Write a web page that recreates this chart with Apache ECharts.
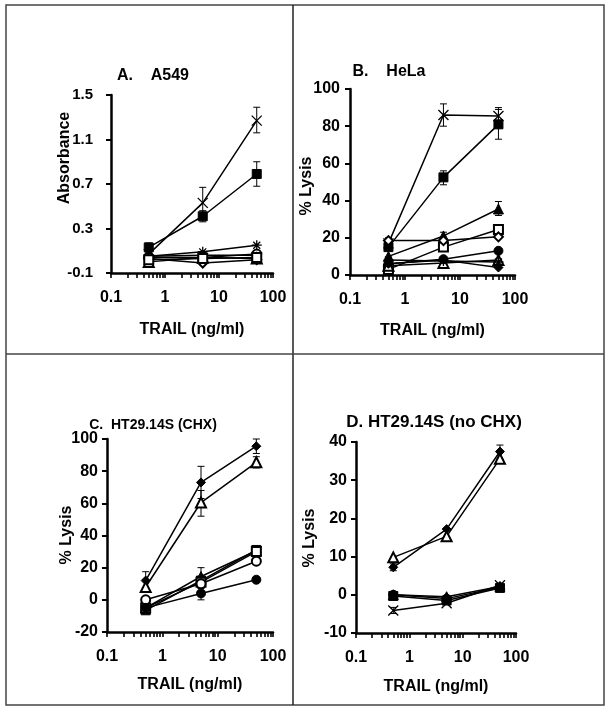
<!DOCTYPE html>
<html><head><meta charset="utf-8">
<script src="https://cdn.jsdelivr.net/npm/echarts@6/dist/echarts.min.js"></script>
<style>html,body{margin:0;padding:0;background:#fff}#c{width:609px;height:711px}</style>
</head><body><div id="c"></div>
<script>
// ---------- data ----------
const doses = [0.5, 5, 50];                    // TRAIL ng/ml
const xTickLabels = ['0.1', '1', '10', '100'];
const xTickVals = [0.1,0.2,0.3,0.4,0.5,0.6,0.7,0.8,0.9,1,2,3,4,5,6,7,8,9,10,20,30,40,50,60,70,80,90,100];

const panelTitles = ['A.    A549', 'B.    HeLa', 'C.  HT29.14S (CHX)', 'D. HT29.14S (no CHX)'];
const yNames = ['Absorbance', '% Lysis', '% Lysis', '% Lysis'];
const xName = 'TRAIL (ng/ml)';
const yTicksA = [-0.1, 0.3, 0.7, 1.1, 1.5];
const yTicksB = [0, 20, 40, 60, 80, 100];
const yTicksC = [-20, 0, 20, 40, 60, 80, 100];
const yTicksD = [-10, 0, 10, 20, 30, 40];

// Panel A (absorbance)
const aCross    = [0.07, 0.53, 1.27];
const aSqFill   = [0.13, 0.41, 0.79];
const aStar     = [0.05, 0.09, 0.15];
const aCircFill = [0.05, 0.06, 0.06];
const aCircOpen = [0.04, 0.04, 0.07];
const aTriOpen  = [0.00, 0.04, 0.03];
const aDiamOpen = [0.03, -0.01, 0.02];
const aSqOpen   = [0.02, 0.03, 0.04];
const aErr = [[5, 0.40, 0.67], [50, 1.16, 1.39], [0.5, 0.09, 0.17], [5, 0.36, 0.46], [50, 0.68, 0.90]];

// Panel B (HeLa % lysis)
const bCross    = [17, 86, 85.5];
const bSqFill   = [15, 52.5, 81];
const bTriFill  = [10, 21, 35.5];
const bSqOpen   = [3, 15, 24.5];
const bDiamOpen = [18.5, 18.5, 20.5];
const bCircFill = [6, 8.5, 13];
const bTriOpen  = [5, 6.5, 8];
const bDiamFill = [6, 8, 4];
const bStar     = [8, 7.5, 7];
const bErr = [[5, 80, 92], [50, 81, 90], [5, 48.5, 56], [50, 73, 89], [5, 18, 23], [50, 32, 39.5], [0.5, 16.5, 20]];

// Panel C (HT29.14S with CHX)
const cDiamFill = [12, 73, 95.5];
const cTriOpen  = [8, 60.5, 85.5];
const cSqFill   = [-6.5, 12, 31];
const cTriFill  = [-5, 14.5, 30.5];
const cSqOpen   = [-5, 11, 30];
const cCircOpen = [0, 10, 24];
const cCircFill = [-5, 4, 12.5];
const cErr = [[0.5, 7, 17.5], [5, 63, 83], [50, 91, 100], [5, 52, 68], [50, 82, 89], [5, 9, 20], [50, 29, 33], [5, 0, 7]];

// Panel D (HT29.14S without CHX)
const dDiamFill = [7.2, 17.2, 37.5];
const dTriOpen  = [9.8, 15.3, 35.6];
const dCircFill = [0, -1, 2];
const dSqFill   = [-0.3, -1.5, 1.8];
const dCross    = [-4.1, -2.2, 2.5];
const dTriFill  = [0, -0.5, 2.2];
const dErr = [[50, 35.5, 39.2], [0.5, -4.9, -3.3], [0.5, 6.3, 8.1]];

// ---------- styles ----------
const FONT = 'Liberation Sans';
const SYM = {
  cross: 'path://M0,0L10,10M10,0L0,10',
  star: 'path://M5,0L5,10M0,5L10,5M1.5,1.5L8.5,8.5M8.5,1.5L1.5,8.5',
  sqFill: 'rect', sqOpen: 'emptyRect', circFill: 'circle', circOpen: 'emptyCircle',
  triFill: 'triangle', triOpen: 'emptyTriangle', diamFill: 'diamond', diamOpen: 'emptyDiamond'
};

const grids = [
  {left: 111, top: 95, width: 162, height: 178},
  {left: 350, top: 89, width: 165, height: 186},
  {left: 107, top: 439, width: 166, height: 193},
  {left: 356, top: 442, width: 160, height: 191}
];
const yCfg = [
  {min: -0.1, max: 1.5, ticks: yTicksA, margin: 18, size: 15},
  {min: 0, max: 100, ticks: yTicksB, margin: 10, size: 16},
  {min: -20, max: 100, ticks: yTicksC, margin: 9, size: 16},
  {min: -10, max: 40, ticks: yTicksD, margin: 9, size: 16}
];
const titleCfg = [[148, 63, 16], [384, 59, 16], [148, 413, 14], [429, 409, 17]];
const yNamePos = [[65, 158], [307, 186], [67, 535], [310, 538]];
const xNameGap = [49, 48, 45, 46];

const panels = [
  [['cross', aCross], ['sqFill', aSqFill], ['star', aStar], ['circFill', aCircFill], ['circOpen', aCircOpen], ['triOpen', aTriOpen], ['diamOpen', aDiamOpen], ['sqOpen', aSqOpen]],
  [['cross', bCross], ['sqFill', bSqFill], ['triFill', bTriFill], ['sqOpen', bSqOpen], ['diamOpen', bDiamOpen], ['circFill', bCircFill], ['triOpen', bTriOpen], ['diamFill', bDiamFill], ['star', bStar]],
  [['diamFill', cDiamFill], ['triOpen', cTriOpen], ['sqFill', cSqFill], ['triFill', cTriFill], ['sqOpen', cSqOpen], ['circOpen', cCircOpen], ['circFill', cCircFill]],
  [['diamFill', dDiamFill], ['triOpen', dTriOpen], ['circFill', dCircFill], ['sqFill', dSqFill], ['cross', dCross], ['triFill', dTriFill]]
];
const errs = [aErr, bErr, cErr, dErr];

const txt = {fontFamily: FONT, fontWeight: 'bold', fontSize: 16, color: '#000'};
const xAxes = [], yAxes = [], series = [], titles = [], graphics = [];
grids.forEach((g, i) => {
  xAxes.push({
    type: 'log', logBase: 10, gridIndex: i, min: 0.1, max: 100, position: 'bottom',
    name: xName, nameLocation: 'middle', nameGap: xNameGap[i], nameMoveOverlap: false,
    nameTextStyle: Object.assign({}, txt),
    axisLine: {onZero: false, lineStyle: {color: '#000', width: 2.5}},
    axisTick: {show: true, customValues: xTickVals, length: 5, lineStyle: {color: '#000', width: 1.6}},
    axisLabel: Object.assign({margin: 17, formatter: v => xTickLabels[Math.round(Math.log10(v)) + 1]}, txt),
    splitLine: {show: false}
  });
  const yc = yCfg[i];
  yAxes.push({
    type: 'value', gridIndex: i, min: yc.min, max: yc.max,
    axisLine: {show: true, onZero: false, lineStyle: {color: '#000', width: 2.5}},
    axisTick: {show: true, customValues: yc.ticks, length: 5, lineStyle: {color: '#000', width: 2}},
    axisLabel: Object.assign({customValues: yc.ticks, margin: yc.margin}, txt, {fontSize: yc.size}),
    splitLine: {show: false}
  });
  titles.push({
    text: panelTitles[i], left: titleCfg[i][0], top: titleCfg[i][1], textAlign: 'center',
    textStyle: {fontFamily: FONT, fontWeight: 'bold', fontSize: titleCfg[i][2], color: '#000'}
  });
  graphics.push({
    type: 'text', x: yNamePos[i][0], y: yNamePos[i][1], rotation: Math.PI / 2, silent: true,
    style: {text: yNames[i], fill: '#000', font: 'bold 16px "' + FONT + '"', align: 'center', verticalAlign: 'middle'}
  });
  // error bars
  series.push({
    type: 'custom', xAxisIndex: i, yAxisIndex: i, z: 1,
    data: errs[i], encode: {x: 0, y: [1, 2]},
    renderItem: (params, api) => {
      const x = api.value(0);
      const p1 = api.coord([x, api.value(1)]);
      const p2 = api.coord([x, api.value(2)]);
      const w = 3.5, st = {stroke: '#000', lineWidth: 1};
      return {type: 'group', children: [
        {type: 'line', shape: {x1: p1[0], y1: p1[1], x2: p2[0], y2: p2[1]}, style: st},
        {type: 'line', shape: {x1: p1[0] - w, y1: p1[1], x2: p1[0] + w, y2: p1[1]}, style: st},
        {type: 'line', shape: {x1: p2[0] - w, y1: p2[1], x2: p2[0] + w, y2: p2[1]}, style: st}
      ]};
    }
  });
  panels[i].forEach(([sym, vals]) => {
    const isPath = sym === 'cross' || sym === 'star';
    series.push({
      type: 'line', xAxisIndex: i, yAxisIndex: i, z: 3,
      data: doses.map((d, k) => [d, vals[k]]),
      symbol: SYM[sym], symbolSize: isPath ? 10 : (sym.startsWith('tri') ? 10 : 9),
      showSymbol: true,
      lineStyle: {color: '#000', width: 1.5},
      itemStyle: {color: '#000', borderColor: '#000', borderWidth: isPath ? 1.3 : 1},
      emphasis: {disabled: true}, animation: false
    });
  });
});

graphics.push(
  {type: 'rect', shape: {x: 6, y: 5, width: 598, height: 700}, style: {fill: 'none', stroke: '#444', lineWidth: 1.5}, silent: true},
  {type: 'line', shape: {x1: 293, y1: 5, x2: 293, y2: 705}, style: {stroke: '#222', lineWidth: 1.5}, silent: true},
  {type: 'line', shape: {x1: 6, y1: 354, x2: 604, y2: 354}, style: {stroke: '#444', lineWidth: 1.5}, silent: true}
);

const chart = echarts.init(document.getElementById('c'), null, {renderer: 'canvas'});
chart.setOption({
  backgroundColor: '#fff', animation: false,
  title: titles, grid: grids, xAxis: xAxes, yAxis: yAxes, series: series,
  graphic: graphics
});
</script></body></html>
